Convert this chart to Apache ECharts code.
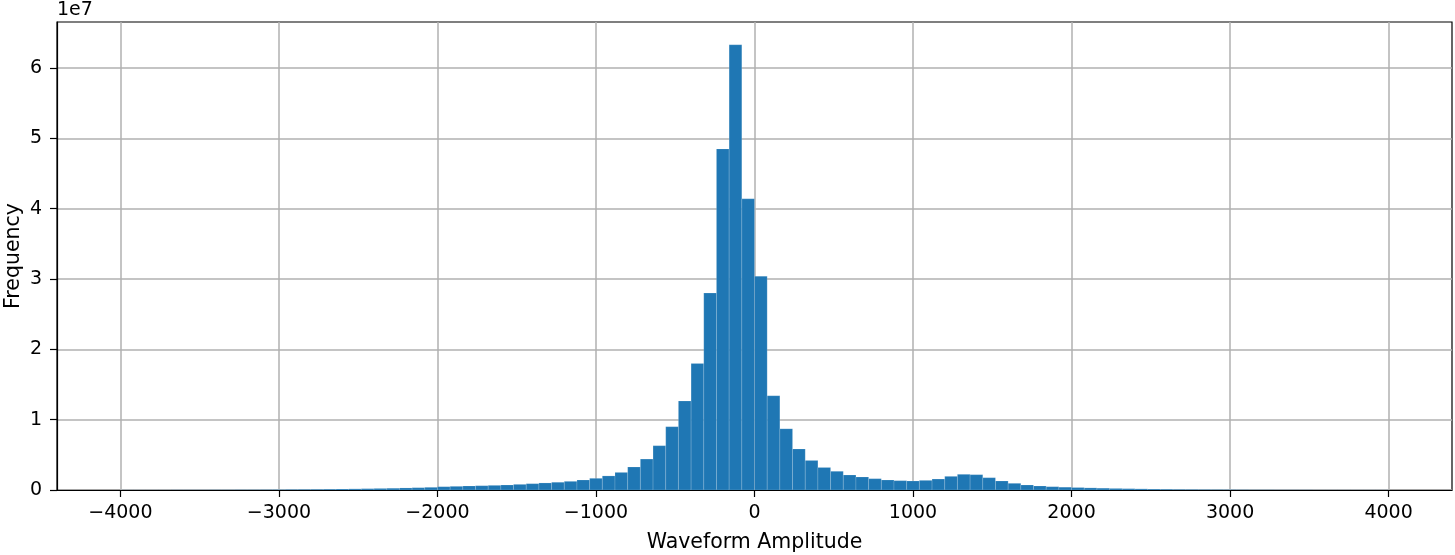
<!DOCTYPE html>
<html>
<head>
<meta charset="utf-8">
<title>Waveform Amplitude histogram</title>
<script src="https://cdn.jsdelivr.net/npm/echarts@6/dist/echarts.min.js"></script>
<style>
  html, body { margin: 0; padding: 0; background: #fff; }
  #main { width: 1455px; height: 555px; }
</style>
</head>
<body>
<div id="main"></div>
<script>
// histogram: 100 bins of width 80 from -4000 to 4000
const binStart = -4000;
const binWidth = 80;
// counts per bin, in units of 1e7
const freqE7 = [
  0.001, 0.001, 0.001, 0.001, 0.002, 0.002, 0.002, 0.003, 0.003, 0.004,
  0.004, 0.005, 0.006, 0.008, 0.009, 0.010, 0.012, 0.014, 0.016, 0.019,
  0.022, 0.025, 0.029, 0.033, 0.038, 0.047, 0.052, 0.057, 0.061, 0.066,
  0.071, 0.080, 0.090, 0.100, 0.110, 0.123, 0.142, 0.166, 0.200, 0.250,
  0.327, 0.440, 0.630, 0.900, 1.265, 1.800, 2.800, 4.850, 6.330, 4.140,
  3.040, 1.340, 0.870, 0.583, 0.420, 0.320, 0.266, 0.213, 0.185, 0.161,
  0.142, 0.133, 0.128, 0.137, 0.156, 0.194, 0.223, 0.218, 0.175, 0.128,
  0.095, 0.071, 0.057, 0.047, 0.040, 0.035, 0.030, 0.026, 0.022, 0.019,
  0.016, 0.013, 0.011, 0.009, 0.008, 0.007, 0.006, 0.005, 0.004, 0.003,
  0.003, 0.002, 0.002, 0.002, 0.001, 0.001, 0.001, 0.001, 0.001, 0.001
];
const xTicks = [-4000, -3000, -2000, -1000, 0, 1000, 2000, 3000, 4000];
const yTicks = [0, 1, 2, 3, 4, 5, 6];

const font = 'DejaVu Sans';
const minus = v => String(v).replace('-', '\u2212');

// [left edge, right edge, height]
const bins = freqE7.map((v, i) => [binStart + i * binWidth, binStart + (i + 1) * binWidth, v]);

const chart = echarts.init(document.getElementById('main'), null, { renderer: 'canvas' });

chart.setOption({
  animation: false,
  backgroundColor: '#fff',
  textStyle: { fontFamily: font },
  grid: {
    left: 57, right: 3, top: 22, bottom: 65,
    outerBoundsMode: 'none', containLabel: false,
    show: true, borderColor: '#000', borderWidth: 1.2, backgroundColor: 'transparent'
  },
  graphic: [{
    type: 'text', left: 57, top: 1,
    style: { text: '1e7', font: '19px "DejaVu Sans"', fill: '#000' }
  }],
  xAxis: {
    type: 'value',
    min: -4400, max: 4400,
    name: 'Waveform Amplitude',
    nameLocation: 'middle', nameGap: 42, nameMoveOverlap: false,
    nameTextStyle: { fontSize: 20.5, color: '#000', fontFamily: font },
    axisLine: { show: true, onZero: false, lineStyle: { color: '#000', width: 1.2 } },
    axisTick: { show: true, length: 7, customValues: xTicks, lineStyle: { color: '#000', width: 1.2 } },
    axisLabel: {
      customValues: xTicks, margin: 14, fontSize: 19, color: '#000', fontFamily: font,
      formatter: v => minus(v)
    },
    splitLine: { show: true, lineStyle: { color: '#b0b0b0', width: 1.5 } }
  },
  yAxis: {
    type: 'value',
    min: 0, max: 6.654,
    name: 'Frequency',
    nameLocation: 'middle', nameGap: 33, nameMoveOverlap: false,
    nameTextStyle: { fontSize: 20.5, color: '#000', fontFamily: font },
    axisLine: { show: true, onZero: false, lineStyle: { color: '#000', width: 1.2 } },
    axisTick: { show: true, length: 7, customValues: yTicks, lineStyle: { color: '#000', width: 1.2 } },
    axisLabel: { customValues: yTicks, margin: 15, fontSize: 19, color: '#000', fontFamily: font },
    splitLine: { show: true, lineStyle: { color: '#b0b0b0', width: 1.5 } }
  },
  series: [{
    type: 'custom',
    data: bins,
    encode: { x: [0, 1], y: 2 },
    clip: true,
    renderItem: (params, api) => {
      const p0 = api.coord([api.value(0), api.value(2)]);
      const p1 = api.coord([api.value(1), 0]);
      return {
        type: 'rect',
        shape: { x: p0[0], y: p0[1], width: p1[0] - p0[0], height: p1[1] - p0[1] },
        style: { fill: '#1f77b4', stroke: 'rgba(255,255,255,0.25)', lineWidth: 0.6 }
      };
    }
  }]
});
</script>
</body>
</html>
